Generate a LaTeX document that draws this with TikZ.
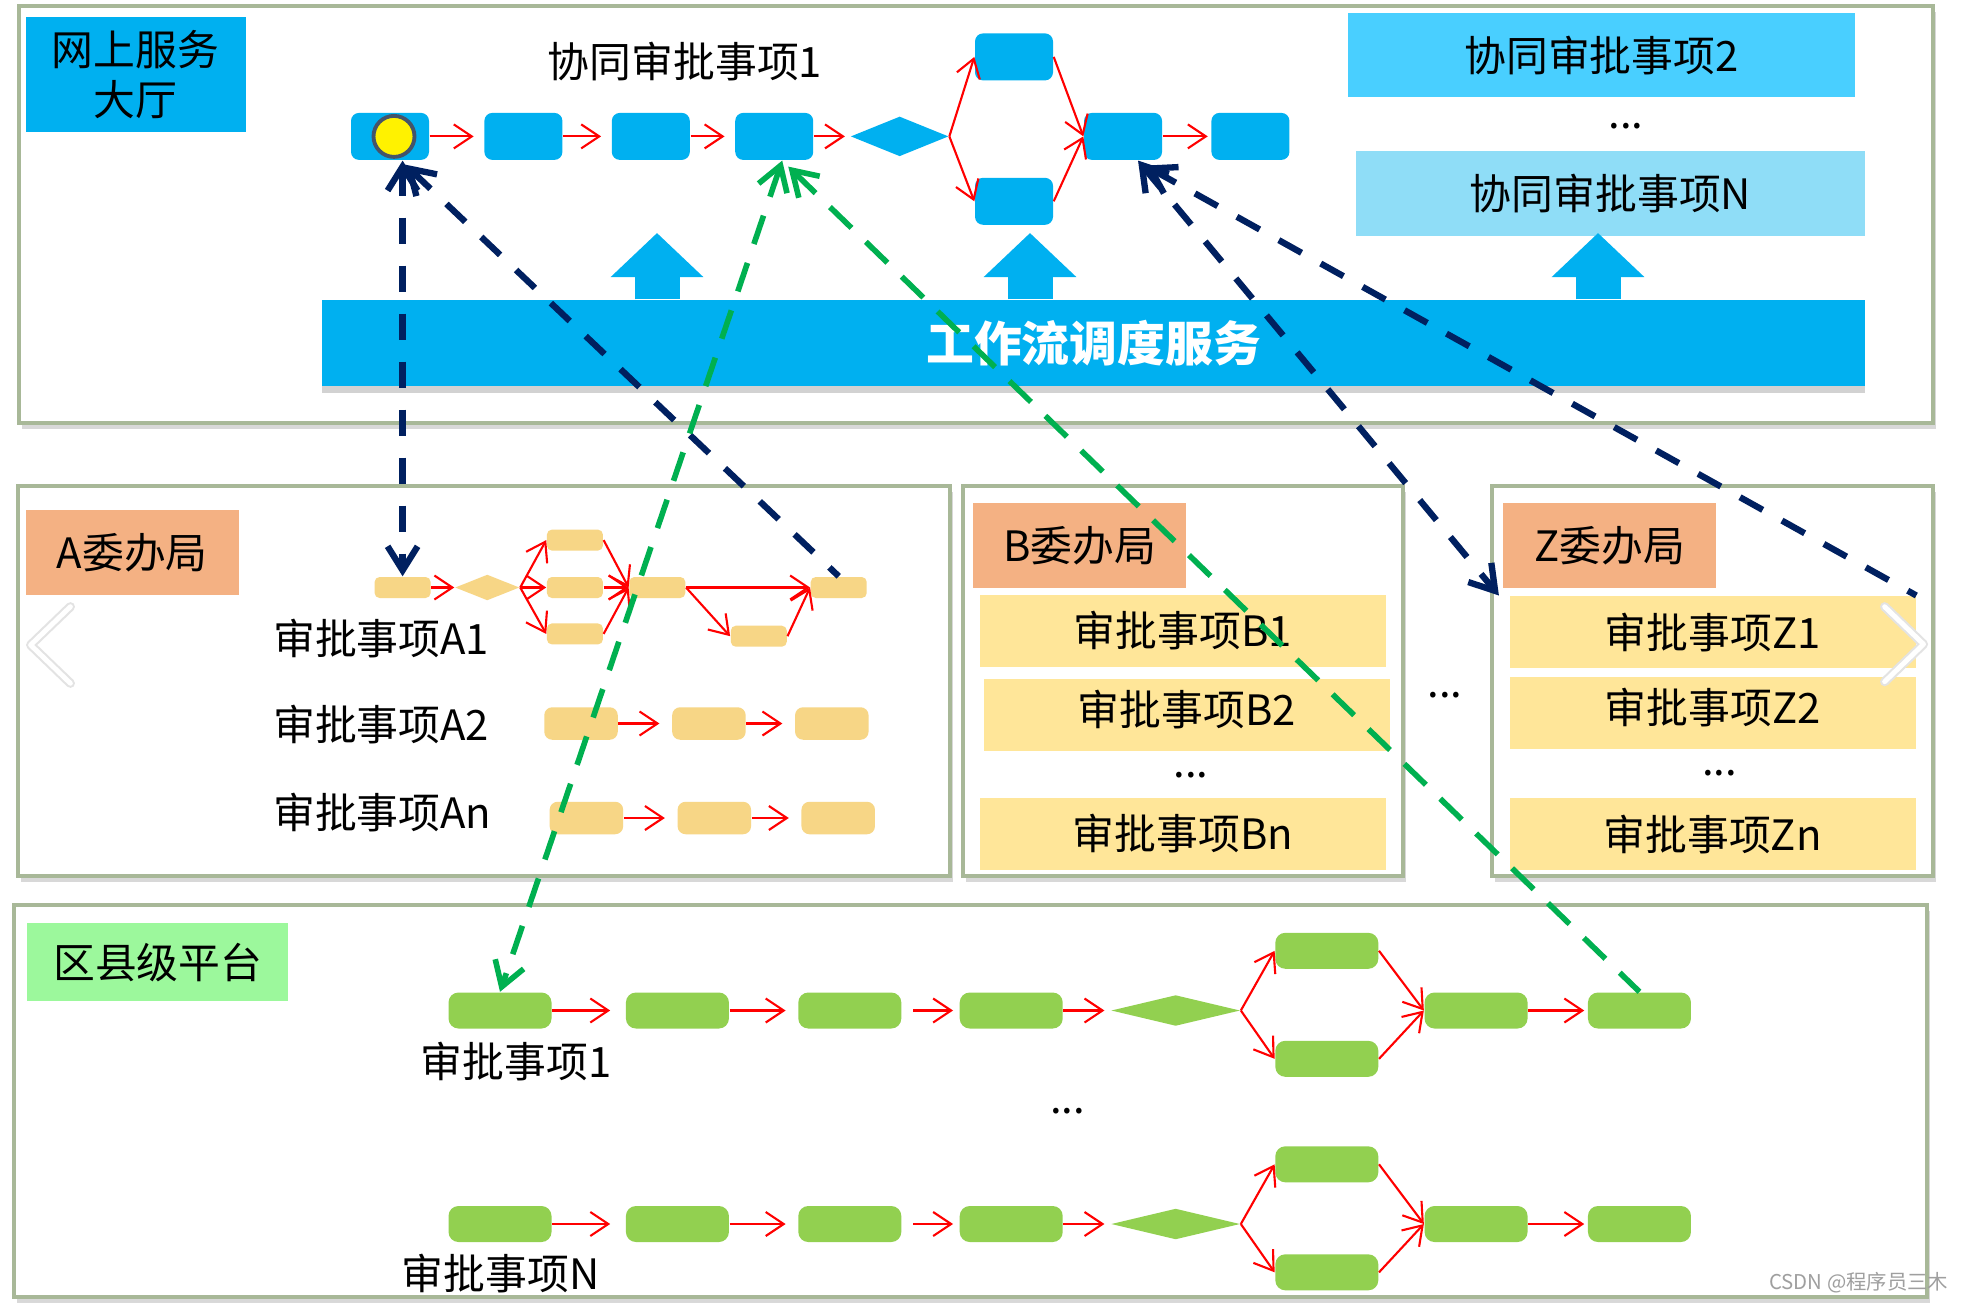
\documentclass[tikz,border=0pt]{standalone}
\usepackage{fontspec}
\setmainfont{Noto Sans CJK SC}
\usetikzlibrary{arrows.meta,positioning,shapes.geometric,shadows}
\definecolor{cblue}{RGB}{0,176,240}
\definecolor{ccyan}{RGB}{73,207,255}
\definecolor{clight}{RGB}{143,221,247}
\definecolor{csalmon}{RGB}{244,177,131}
\definecolor{cpale}{RGB}{255,230,153}
\definecolor{cnode}{RGB}{247,214,134}
\definecolor{cgreen}{RGB}{146,208,80}
\definecolor{chead}{RGB}{156,248,156}
\definecolor{cframe}{RGB}{168,184,152}
\definecolor{cnavy}{RGB}{0,32,96}
\definecolor{cdash}{RGB}{0,176,80}
\definecolor{cring}{RGB}{68,84,106}
\newcommand{\lblfont}{\fontsize{11.9pt}{14.2pt}\selectfont}

\begin{document}
\begin{tikzpicture}[
        blk/.style={fill=cblue,rounded corners=0.8mm,minimum width=7.8mm,
                    minimum height=4.7mm,inner sep=0},
        ablk/.style={fill=cnode,rounded corners=0.5mm,minimum width=5.6mm,
                     minimum height=2.1mm,inner sep=0},
        bblk/.style={fill=cnode,rounded corners=0.8mm,minimum width=7.35mm,
                     minimum height=3.25mm,inner sep=0},
        gblk/.style={fill=cgreen,rounded corners=1mm,minimum width=10.3mm,
                     minimum height=3.6mm,inner sep=0},
        dia/.style={diamond,inner sep=0},
        hdr/.style={fill=csalmon,minimum width=21.3mm,minimum height=8.5mm,
                    inner sep=0,font=\lblfont},
        item/.style={fill=cpale,minimum width=40.6mm,minimum height=7.2mm,
                     inner sep=0,font=\lblfont},
        lbl/.style={inner sep=0,font=\lblfont},
        a/.style={-{Straight Barb[length=1.8mm,width=2.4mm]},red,line width=0.6pt},
        nv/.style={cnavy,line width=1.8pt,dash pattern=on 2.6mm off 2.2mm,
                   >={Straight Barb[length=2.4mm,width=3mm]}},
        gd/.style={cdash,line width=1.6pt,dash pattern=on 3mm off 2mm,
                   >={Straight Barb[length=2.4mm,width=3mm]}},
        panel/.style={draw=cframe,line width=0.9pt,fill=white,
                      drop shadow={shadow xshift=0.3mm,shadow yshift=-0.6mm,opacity=0.3}},
        bigup/.style={cblue,line width=4.5mm,-{Triangle[length=4.4mm,width=9mm]}}
      ]
        \useasboundingbox (0,0) rectangle (19.64,-13.02);
        \fill[white] (0,0) rectangle (19.64,-13.02);

        % frames
        \draw[panel] (0.19,-0.06) rectangle (19.33,-4.23);
        \draw[panel] (0.18,-4.86) rectangle (9.50,-8.76);
        \draw[panel] (9.63,-4.86) rectangle (14.03,-8.76);
        \draw[panel] (14.92,-4.86) rectangle (19.33,-8.76);
        \draw[panel] (0.14,-9.05) rectangle (19.27,-12.97);

        % online hall
        \node[fill=cblue,minimum width=22mm,minimum height=11.5mm,inner sep=0,
              align=center,font=\lblfont] (hall) at (1.355,-0.742) {网上服务\\大厅};
        \node[lbl] (t1) at (6.85,-0.62) {协同审批事项1};
        \node[fill=ccyan,minimum width=50.7mm,minimum height=8.4mm,inner sep=0,
              font=\lblfont] (t2) at (16.015,-0.555) {协同审批事项2};
        \node[lbl] (tdots) at (16.26,-1.26) {...};
        \node[fill=clight,minimum width=50.9mm,minimum height=8.5mm,inner sep=0,
              font=\lblfont] (tn) at (16.105,-1.933) {协同审批事项N};

        \node[blk] (s1) at (3.90,-1.364) {};
        \node[circle,fill=yellow,draw=cring,line width=1.1pt,minimum size=4.1mm,
              inner sep=0] (dot) at ([xshift=0.4mm]s1.center) {};
        \node[blk, right=5.4mm of s1] (s2) {};
        \node[blk, right=4.8mm of s2] (s3) {};
        \node[blk, right=4.4mm of s3] (s4) {};
        \node[dia,fill=cblue,minimum width=9.8mm,minimum height=4mm,
              right=3.6mm of s4] (sd) {};
        \node[blk] (su) at (10.14,-0.569) {};
        \node[blk] (sl) at (10.14,-2.013) {};
        \node[blk, right=13.4mm of sd] (s7) {};
        \node[blk, right=4.8mm of s7] (s8) {};

        \draw[a,shorten >=1mm] (s1)--(s2);
        \draw[a,shorten >=1mm] (s2)--(s3);
        \draw[a,shorten >=1mm] (s3)--(s4);
        \draw[a,shorten >=0.5mm] (s4)--(sd);
        \draw[a] (sd.east)--(su.west);
        \draw[a] (sd.east)--(sl.west);
        \draw[a] (su.east)--(s7.west);
        \draw[a] (sl.east)--(s7.west);
        \draw[a,shorten >=0.3mm] (s7)--(s8);

        % scheduling bar
        \node[fill=cblue,minimum width=154.3mm,minimum height=8.6mm,inner sep=0,
              drop shadow={shadow xshift=0mm,shadow yshift=-0.7mm,opacity=0.35},
              text=white,font=\fontsize{13.6pt}{16pt}\selectfont\bfseries]
              (bar) at (10.935,-3.43) {工作流调度服务};
        \coordinate (u1) at (6.57,-2.33);
        \coordinate (u2) at (10.30,-2.33);
        \coordinate (u3) at (15.98,-2.33);
        \draw[bigup] (u1 |- bar.north) -- (u1);
        \draw[bigup] (u2 |- bar.north) -- (u2);
        \draw[bigup] (u3 |- bar.north) -- (u3);

        % A office
        \node[hdr] (ha) at (1.323,-5.528) {A委办局};
        \node[ablk] (a1) at (4.026,-5.875) {};
        \node[dia,fill=cnode,minimum width=6.45mm,minimum height=2.6mm,
              right=2.3mm of a1] (ad) {};
        \node[ablk, right=2.6mm of ad] (am) {};
        \node[ablk, above=2.5mm of am] (au) {};
        \node[ablk, below=2.4mm of am] (al) {};
        \node[ablk, right=2.5mm of am] (amg) {};
        \node[ablk, right=12.4mm of amg] (a6) {};
        \node[ablk] (ab) at (7.588,-6.362) {};

        \draw[a] (a1)--(ad);
        \draw[a] (ad.east)--(au.west);
        \draw[a] (ad.east)--(am.west);
        \draw[a] (ad.east)--(al.west);
        \draw[a] (au.east)--(amg.west);
        \draw[a] (am)--(amg);
        \draw[a] (al.east)--(amg.west);
        \draw[a] (amg)--(a6);
        \draw[a] (amg.east)--(ab.west);
        \draw[a] (ab.east)--(a6.west);

        \node[lbl,anchor=west] (la1) at (2.725,-6.39) {审批事项A1};
        \node[lbl,anchor=west] (la2) at (2.725,-7.25) {审批事项A2};
        \node[lbl,anchor=west] (lan) at (2.725,-8.13) {审批事项An};

        \node[bblk] (b1) at (5.81,-7.235) {};
        \node[bblk, right=5.3mm of b1] (b2) {};
        \node[bblk, right=4.8mm of b2] (b3) {};
        \draw[a,shorten >=1.2mm] (b1)--(b2);
        \draw[a,shorten >=1.2mm] (b2)--(b3);

        \node[bblk] (n1) at (5.864,-8.18) {};
        \node[bblk, right=5.3mm of n1] (n2) {};
        \node[bblk, right=4.9mm of n2] (n3) {};
        \draw[a,shorten >=1.2mm] (n1)--(n2);
        \draw[a,shorten >=1.2mm] (n2)--(n3);

        % B and Z offices
        \node[hdr] (hb) at (10.797,-5.457) {B委办局};
        \node[item] (bi1) at (11.829,-6.31) {审批事项B1};
        \node[item] (bi2) at (11.867,-7.147) {\raisebox{1.4mm}{审批事项B2}};
        \node[lbl] (bdots) at (11.91,-7.75) {...};
        \node[item] (bin) at (11.829,-8.337) {审批事项Bn};

        \node[lbl] (mdots) at (14.448,-6.95) {...};

        \node[hdr] (hz) at (16.098,-5.455) {Z委办局};
        \node[item] (z1) at (17.126,-6.322) {审批事项Z1};
        \node[item] (z2) at (17.126,-7.125) {\raisebox{1.4mm}{审批事项Z2}};
        \node[lbl] (zdots) at (17.197,-7.73) {...};
        \node[item] (zn) at (17.126,-8.342) {审批事项Zn};

        % carousel marks
        \draw[gray!22,line width=2.6pt,line cap=round,line join=round]
          (0.704,-6.067) -- (0.306,-6.45) -- (0.704,-6.833);
        \draw[white,line width=1.4pt,line cap=round,line join=round]
          (0.704,-6.067) -- (0.306,-6.45) -- (0.704,-6.833);
        \draw[gray!22,line width=2.6pt,line cap=round,line join=round]
          (18.846,-6.067) -- (19.235,-6.442) -- (18.846,-6.817);
        \draw[white,line width=1.4pt,line cap=round,line join=round]
          (18.846,-6.067) -- (19.235,-6.442) -- (18.846,-6.817);

        % county platform
        \node[fill=chead,minimum width=26.1mm,minimum height=7.8mm,inner sep=0,
              font=\lblfont] (hq) at (1.579,-9.622) {区县级平台};
        \foreach \r/\y in {p/-10.105,r/-12.24} {
          \node[gblk] (\r1) at (5.00,\y) {};
          \node[gblk, right=7.3mm of \r1] (\r2) {};
          \node[gblk, right=6.8mm of \r2] (\r3) {};
          \node[gblk, right=5.7mm of \r3] (\r4) {};
          \node[dia,fill=cgreen,minimum width=12.9mm,minimum height=3.1mm,
                right=4.7mm of \r4] (\r d) {};
          \node[gblk] (\r u) at (13.268,\y+0.597) {};
          \node[gblk] (\r l) at (13.268,\y-0.483) {};
          \node[gblk, right=18.3mm of \r d] (\r m) {};
          \node[gblk, right=5.9mm of \r m] (\r 8) {};
          \draw[a,shorten >=1.5mm] (\r1)--(\r2);
          \draw[a,shorten >=1.2mm] (\r2)--(\r3);
          \draw[a,shorten >=0.6mm,shorten <=1.1mm] (\r3)--(\r4);
          \draw[a,shorten >=0.6mm] (\r4)--(\r d);
          \draw[a] (\r d.east)--(\r u.west);
          \draw[a] (\r d.east)--(\r l.west);
          \draw[a] (\r u.east)--(\r m.west);
          \draw[a] (\r l.east)--(\r m.west);
          \draw[a,shorten >=0.3mm] (\r m)--(\r 8);
        }
        \node[lbl] (lp) at (5.16,-10.62) {审批事项1};
        \node[lbl] (qdots) at (10.677,-11.107) {...};
        \node[lbl] (lr) at (5.006,-12.74) {审批事项N};

        \node[anchor=east,inner sep=0,text=gray!75,
              font=\fontsize{5.8pt}{7pt}\selectfont] (wm) at (19.49,-12.83) {CSDN @程序员三木};

        % dashed links
        \draw[nv,<->] (s1.south -| a1.north) -- (a1.north);
        \draw[nv,<-] ([xshift=1.5mm,yshift=-0.4mm]s1.south) -- (a6.north);
        \draw[nv,<->] ([xshift=1.5mm]s7.south) -- ([xshift=-1mm]z1.north west);
        \draw[nv,<-] ([xshift=2.2mm,yshift=-0.5mm]s7.south) -- (z1.north east);
        \draw[gd,<->] ([xshift=0.8mm]s4.south) -- (p1.north);
        \draw[gd,<-] ([xshift=1.4mm,yshift=-0.6mm]s4.south) -- (p8.north);
      \end{tikzpicture}
\end{document}
